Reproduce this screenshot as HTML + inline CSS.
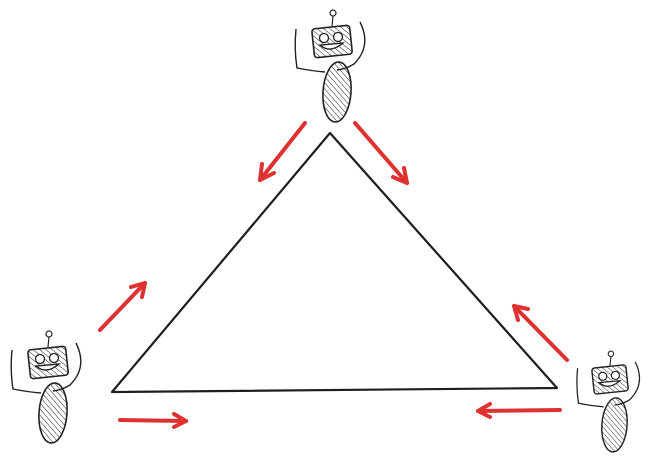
<!DOCTYPE html>
<html><head><meta charset="utf-8"><style>html,body{margin:0;padding:0;background:#fff}svg{display:block}</style></head>
<body>
<svg width="658" height="462" viewBox="0 0 658 462" xmlns="http://www.w3.org/2000/svg">
<defs>
<pattern id="hatch" width="4" height="4" patternUnits="userSpaceOnUse" patternTransform="rotate(-45)">
<line x1="0" y1="0" x2="0" y2="4" stroke="#222" stroke-width="1"/>
</pattern>
<g id="robot">
<line x1="1" y1="-25" x2="0" y2="-15" stroke="#222" stroke-width="1.2"/>
<circle cx="1" cy="-28" r="3" fill="#fff" stroke="#222" stroke-width="1.2"/>
<rect x="-19" y="-14" width="38" height="29" rx="3" transform="rotate(-6)" fill="url(#hatch)" stroke="#222" stroke-width="1.6"/>
<circle cx="-8" cy="-3" r="4.5" fill="#fff" stroke="#222" stroke-width="1.3"/>
<circle cx="6" cy="-4" r="4.5" fill="#fff" stroke="#222" stroke-width="1.3"/>
<path d="M-12 4 Q-2 13 11 2 Z" fill="#fff" stroke="#222" stroke-width="1.4"/>
<path d="M-36 -12 Q-38 8 -35 27 Q-20 30 -7 31" fill="none" stroke="#222" stroke-width="1.4"/>
<path d="M28 -19 Q40 5 22 23 Q14 28 5 29" fill="none" stroke="#222" stroke-width="1.4"/>
<ellipse cx="5" cy="51" rx="14" ry="30" transform="rotate(4 5 51)" fill="url(#hatch)" stroke="#222" stroke-width="1.6"/>
</g>
</defs>
<use href="#robot" transform="translate(332,41)"/>
<use href="#robot" transform="translate(48,362)"/>
<use href="#robot" transform="translate(610,379) scale(0.9)"/>
<path d="M330 133 L112 392 L557 388 Z" fill="none" stroke="#1e1e1e" stroke-width="2.2" stroke-linejoin="round"/>
<g stroke="#e03131" stroke-width="4" fill="none" stroke-linecap="round" stroke-linejoin="round">
<g><path d="M305 123 L260 180"/><path d="M260 180 L262 164 M260 180 L274 173"/></g>
<g><path d="M355 123 L407 183"/><path d="M407 183 L393 177 M407 183 L404 168"/></g>
<g><path d="M100 330 L145 283"/><path d="M145 283 L131 287 M145 283 L142 297"/></g>
<g><path d="M120 420 L186 421"/><path d="M186 421 L174 414 M186 421 L174 427"/></g>
<g><path d="M567 360 L514 306"/><path d="M514 306 L518 320 M514 306 L528 309"/></g>
<g><path d="M560 410 L478 411"/><path d="M478 411 L490 404 M478 411 L490 417"/></g>
</g>
</svg>
</body></html>
